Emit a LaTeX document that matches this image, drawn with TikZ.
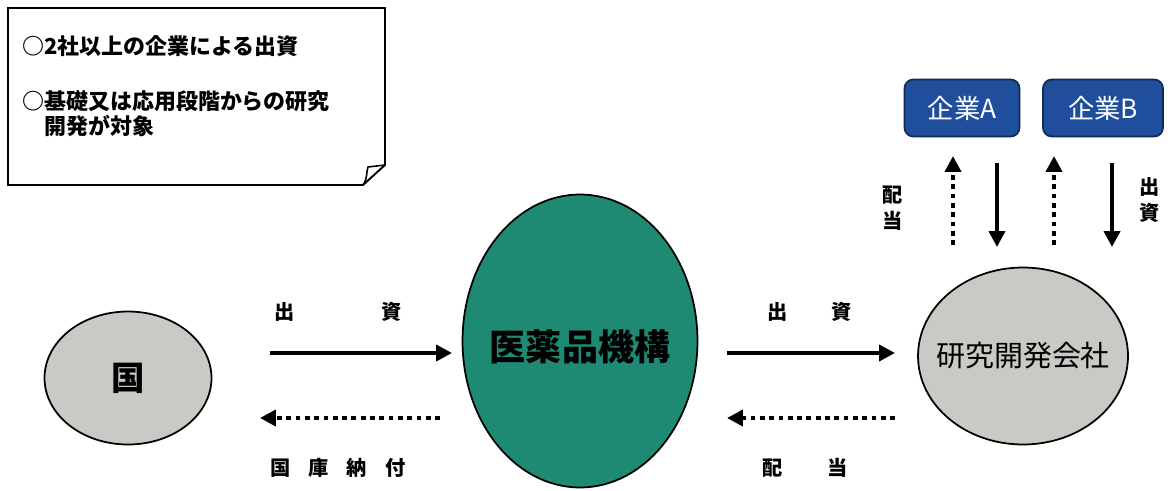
\documentclass[tikz,border=0pt]{standalone}
\usepackage{fontspec}
\setmainfont{Noto Sans CJK JP}
\usetikzlibrary{arrows.meta, positioning, shapes.geometric}
\definecolor{kikoteal}{HTML}{1F8A74}
\definecolor{ovalgray}{HTML}{C9C9C6}
\definecolor{kigyoblue}{HTML}{1E4E9C}
\tikzstyle{oval}=[ellipse, draw, line width=1pt, fill=ovalgray, inner sep=0pt]
\tikzstyle{firm}=[rectangle, rounded corners=5pt, draw=kigyoblue!55!black, line width=1pt, fill=kigyoblue, text=white, minimum height=1.14cm, font=\fontsize{15}{18}\selectfont]
\tikzstyle{money}=[line width=2.2pt, -{Triangle[length=9pt, width=9pt]}]
\tikzstyle{back}=[line width=2.7pt, dash pattern=on 2.7pt off 2.6pt, -{Triangle[length=9pt, width=9pt]}]
\tikzstyle{lbl}=[font=\bfseries\fontsize{11.5}{14.5}\selectfont, inner sep=0pt]

\begin{document}
\begin{tikzpicture}[x=0.02cm, y=-0.02cm]
    \useasboundingbox (0,0) rectangle (1175,490);
    % note with folded corner
    \draw[line width=1.1pt, fill=white] (8,8) -- (385,8) -- (385,165) -- (363,185) -- (8,185) -- cycle;
    \draw[line width=0.9pt] (363,185) .. controls (368,178) and (366,172) .. (368,167) -- (385,165);
    \node[anchor=west, align=left, font=\bfseries\fontsize{12.5}{14.2}\selectfont, inner sep=0pt] (memo) at (22,86)
        {○2社以上の企業による出資\\[0.6cm]○基礎又は応用段階からの研究\\\hspace*{1em}開発が対象};

    % bodies (text set apart so the ovals keep their size)
    \node[oval, minimum width=3.34cm, minimum height=2.66cm] (kuni) at (128,378) {};
    \node[font=\bfseries\fontsize{19}{22}\selectfont] at (kuni) {国};
    \node[oval, fill=kikoteal, minimum width=4.7cm, minimum height=5.86cm] (kiko) at (580,341) {};
    \node[font=\bfseries\fontsize{20.5}{24}\selectfont] at ([yshift=-0.12cm]kiko.center) {医薬品機構};
    \node[oval, minimum width=4.2cm, minimum height=3.54cm] (kaisha) at (1023,356) {};
    \node[font=\fontsize{16.5}{20}\selectfont] at (kaisha) {研究開発会社};
    \node[firm, minimum width=2.3cm] (kigyoA) at (962,108) {企業A};
    \node[firm, minimum width=2.4cm] (kigyoB) at (1103,108) {企業B};

    % connector end points
    \coordinate (k1) at (270,353);  \coordinate (k2) at (452,353);
    \coordinate (k3) at (440,418);  \coordinate (k4) at (260,418);
    \coordinate (r1) at (727,353);  \coordinate (r2) at (895,353);
    \coordinate (r3) at (895,418);  \coordinate (r4) at (727,418);
    \coordinate (a1) at (953,245);  \coordinate (a2) at (953,156);
    \coordinate (a3) at (997,163);  \coordinate (a4) at (997,247);
    \coordinate (b1) at (1054,245); \coordinate (b2) at (1054,156);
    \coordinate (b3) at (1112,163); \coordinate (b4) at (1112,247);

    \draw[money] (k1) -- (k2) node[lbl, pos=0.08, yshift=0.82cm] {出} node[lbl, pos=0.67, yshift=0.82cm] {資};
    \draw[back] (k3) -- (k4);
    \node[lbl] (nofu) at (338,468) {国\hspace{0.36cm}庫\hspace{0.36cm}納\hspace{0.36cm}付};

    \draw[money] (r1) -- (r2) node[lbl, pos=0.30, yshift=0.82cm] {出} node[lbl, pos=0.68, yshift=0.82cm] {資};
    \draw[back] (r3) -- (r4);
    \node[lbl] (haito) at (805,468) {配\hspace{0.9cm}当};

    \draw[back] (a1) -- (a2);
    \draw[money] (a3) -- (a4);
    \draw[back] (b1) -- (b2);
    \draw[money] (b3) -- (b4);
    \node[lbl, align=center] (haitoA) at (893,208) {配\\当};
    \node[lbl, align=center] (shusiB) at (1150,200) {出\\資};
\end{tikzpicture}
\end{document}
